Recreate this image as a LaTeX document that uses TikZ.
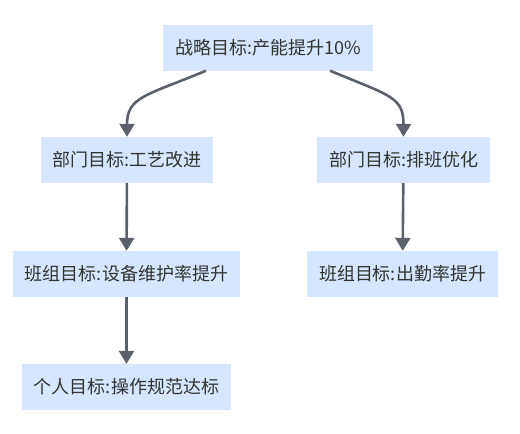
\documentclass[tikz,border=0pt]{standalone}
\usepackage{fontspec}
\setmainfont{Noto Sans CJK SC}
\usetikzlibrary{arrows.meta,calc}
\definecolor{boxfill}{HTML}{D6E6FF}
\definecolor{linec}{HTML}{5A616B}
\definecolor{txt}{HTML}{333333}
\begin{document}
\begin{tikzpicture}[x=1pt,y=-1pt,
  goal/.style={fill=boxfill,draw=none,text=txt,font=\fontsize{18}{21}\selectfont,minimum height=46pt,inner sep=0pt,anchor=center},
  conn/.style={draw=linec,line width=2.6pt,-{Triangle[length=13pt,width=15pt]}}]
\useasboundingbox (0,0) rectangle (520,434);
\node[goal,minimum width=210pt] (top) at (268,47.5) {战略目标:产能提升10\%};
\node[goal,minimum width=172pt] (d1) at (127,160) {部门目标:工艺改进};
\node[goal,minimum width=173pt] (d2) at (403.5,160) {部门目标:排班优化};
\node[goal,minimum width=227pt] (b1) at (126.5,274) {班组目标:设备维护率提升};
\node[goal,minimum width=191pt] (b2) at (402.5,274) {班组目标:出勤率提升};
\node[goal,minimum width=209pt] (p1) at (126.5,387) {个人目标:操作规范达标};
\coordinate (s1) at ($(top.south)+(-62,0)$);
\coordinate (s2) at ($(top.south)+(62,0)$);
\draw[conn] (s1) .. controls ($(s1)+(-60,25)$) and ($(d1.north)+(0,-40)$) .. (d1.north);
\draw[conn] (s2) .. controls ($(s2)+(60,25)$) and ($(d2.north)+(0,-40)$) .. (d2.north);
\draw[conn] (d1) -- (b1);
\draw[conn] (d2) -- (b2);
\draw[conn] (b1) -- (p1);
\end{tikzpicture}
\end{document}
